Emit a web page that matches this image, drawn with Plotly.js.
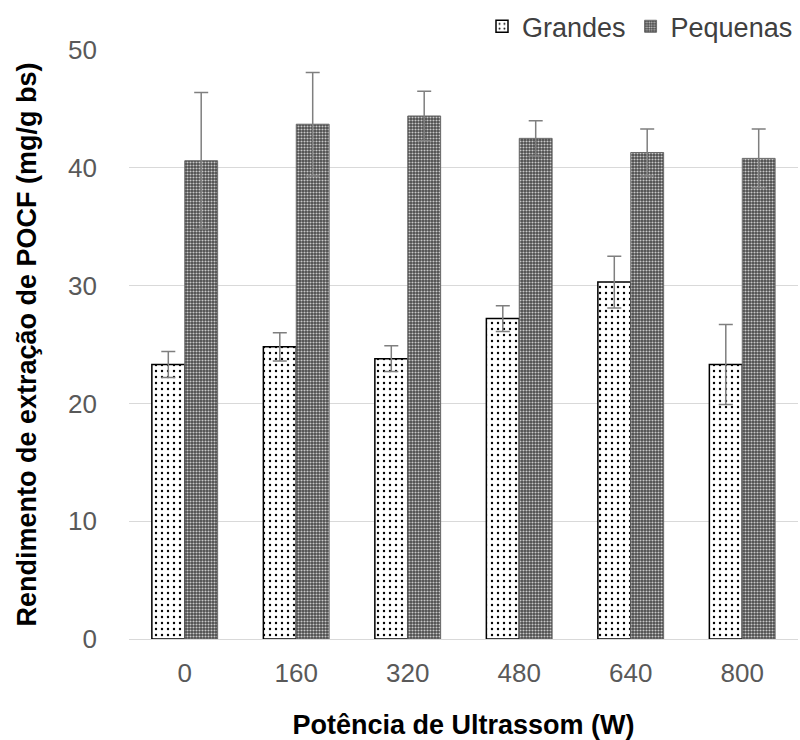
<!DOCTYPE html>
<html>
<head>
<meta charset="utf-8">
<script src="https://cdn.plot.ly/plotly-3.0.1.min.js"></script>
<style>html,body{margin:0;padding:0;background:#fff;}#chart{width:800px;height:740px;}</style>
</head>
<body>
<div id="chart"></div>
<script>
const categories = ["0", "160", "320", "480", "640", "800"];
const grandes = [23.3, 24.8, 23.8, 27.2, 30.3, 23.3];
const grandesErr = [1.1, 1.2, 1.1, 1.1, 2.2, 3.4];
const pequenas = [40.6, 43.7, 44.4, 42.5, 41.3, 40.8];
const pequenasErr = [5.8, 4.4, 2.1, 1.5, 2.0, 2.5];
const seriesNames = ["Grandes", "Pequenas"];

const errStyle = {type: 'data', visible: true, color: '#7f7f7f', thickness: 1.5, width: 7};

const traces = [
  {
    type: 'bar', name: seriesNames[0], x: categories, y: grandes,
    error_y: Object.assign({array: grandesErr}, errStyle),
    marker: {color: '#ffffff', line: {color: '#000000', width: 1.5},
      pattern: {shape: '.', fgcolor: '#000000', bgcolor: '#ffffff', size: 6, solidity: 0.12}}
  },
  {
    type: 'bar', name: seriesNames[1], x: categories, y: pequenas,
    error_y: Object.assign({array: pequenasErr}, errStyle),
    marker: {color: '#5a5a5a', line: {color: '#6a6a6a', width: 1},
      pattern: {shape: '.', fgcolor: '#c8c8c8', bgcolor: '#4a4a4a', size: 3, solidity: 0.4}}
  }
];

const layout = {
  width: 800, height: 740,
  margin: {l: 129, r: 2, t: 50, b: 101, autoexpand: false},
  paper_bgcolor: '#ffffff', plot_bgcolor: '#ffffff',
  font: {family: 'Liberation Sans, Arial, sans-serif', size: 26, color: '#595959'},
  barmode: 'group', bargap: 0.41, bargroupgap: 0,
  showlegend: true,
  legend: {orientation: 'h', x: 1.0, xanchor: 'right', yref: 'container', y: 0.997, yanchor: 'top',
    font: {size: 27, color: '#404040'}, itemwidth: 30, traceorder: 'normal',
    tracegroupgap: 0, itemclick: false},
  xaxis: {
    type: 'category', showgrid: false, zeroline: false,
    showline: true, linecolor: '#d9d9d9', linewidth: 1,
    ticks: '', tickfont: {size: 26, color: '#595959'}, ticklabelstandoff: 11,
    title: {text: '<b>Potência de Ultrassom (W)</b>', font: {size: 27, color: '#000000'}, standoff: 28}
  },
  yaxis: {
    range: [0, 50], dtick: 10, showgrid: true, gridcolor: '#d9d9d9', gridwidth: 1,
    zeroline: false, showline: false, ticks: '',
    tickfont: {size: 26, color: '#595959'}, ticklabelstandoff: 31,
    title: {text: '<b>Rendimento de extração de POCF (mg/g bs)</b>', font: {size: 27, color: '#000000'}, standoff: 23}
  }
};

Plotly.newPlot('chart', traces, layout, {displayModeBar: false, staticPlot: true});
</script>
</body>
</html>
